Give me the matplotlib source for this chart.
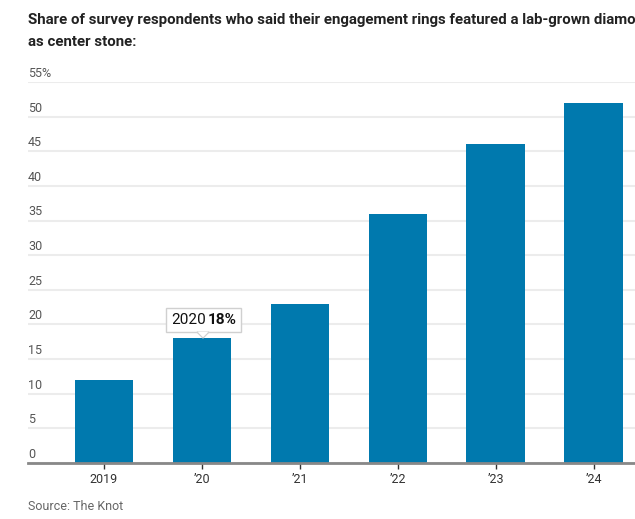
import matplotlib.pyplot as plt
from matplotlib.patches import FancyBboxPatch, Polygon

years = ["2019", "\u201920", "\u201921", "\u201922", "\u201923", "\u201924"]
shares = [12, 18, 23, 36, 46, 52]
yticks = [0, 5, 10, 15, 20, 25, 30, 35, 40, 45, 50, 55]
ytick_labels = [str(t) for t in yticks[:-1]] + ["55%"]

BLUE = "#0079ae"
GRID = "#ececec"
TEXT = "#555555"
FONT = ["Liberation Sans Narrow", "Roboto", "DejaVu Sans"]

plt.rcParams["font.family"] = FONT

fig = plt.figure(figsize=(6.35, 5.19), dpi=100)
W, H = 635, 519
# axes in pixel coords: left 28, right 635, bottom y=463, top y=82 (55)
ax = fig.add_axes([28 / W, 1 - 463 / H, (635 - 28) / W, (463 - 82) / H])

x = list(range(len(years)))
ax.bar(x, shares, width=0.6, color=BLUE, zorder=2)

ax.set_ylim(0, 55)
ax.set_xlim(-0.776, 5.42)
ax.set_yticks(yticks)
ax.set_yticklabels([])
ax.tick_params(axis="y", length=0)
for t, lab in zip(yticks, ytick_labels):
    ax.text(0, t + 0.3, lab, transform=ax.get_yaxis_transform(),
            ha="left", va="bottom", fontsize=9, color=TEXT)
ax.grid(axis="y", color=GRID, linewidth=1.5, zorder=0)

ax.set_xticks(x)
ax.set_xticklabels(years, fontsize=9, color="#333333")
ax.tick_params(axis="x", length=4, width=1, color="#333333", direction="out", pad=3)

for side in ["top", "right", "left"]:
    ax.spines[side].set_visible(False)
ax.spines["bottom"].set_color("#888888")
ax.spines["bottom"].set_linewidth(2)
ax.spines["bottom"].set_zorder(3)

# tooltip on 2020 bar
fig.patches.append(FancyBboxPatch((166 / W, 1 - 332 / H), 75 / W, 24 / H,
                                  boxstyle="square,pad=0", transform=fig.transFigure,
                                  facecolor="white", edgecolor="#d0d0d0", linewidth=1, zorder=5))
fig.patches.append(Polygon([(197 / W, 1 - 332 / H), (209 / W, 1 - 332 / H), (203 / W, 1 - 338 / H)],
                           closed=True, transform=fig.transFigure,
                           facecolor="white", edgecolor="#d0d0d0", linewidth=1, zorder=5))
fig.patches.append(Polygon([(197.5 / W, 1 - 331.6 / H), (208.5 / W, 1 - 331.6 / H), (203 / W, 1 - 337 / H)],
                           closed=True, transform=fig.transFigure,
                           facecolor="white", edgecolor="none", zorder=6))
fig.text(171 / W, 1 - 320 / H, "2020", fontsize=11, color="#111111", va="center", ha="left", zorder=7)
fig.text(208 / W, 1 - 320 / H, "18%", fontsize=11, color="#111111", fontweight="bold",
         va="center", ha="left", zorder=7)

fig.text(28 / W, 1 - 20 / H,
         "Share of survey respondents who said their engagement rings featured a lab-grown diamond",
         fontsize=10.8, fontweight="bold", color="#222222", va="center", ha="left")
fig.text(28 / W, 1 - 42 / H, "as center stone:",
         fontsize=10.8, fontweight="bold", color="#222222", va="center", ha="left")
fig.text(28 / W, 1 - 506 / H, "Source: The Knot", fontsize=9, color="#666666",
         va="center", ha="left")

fig.savefig("out.png", dpi=100)
